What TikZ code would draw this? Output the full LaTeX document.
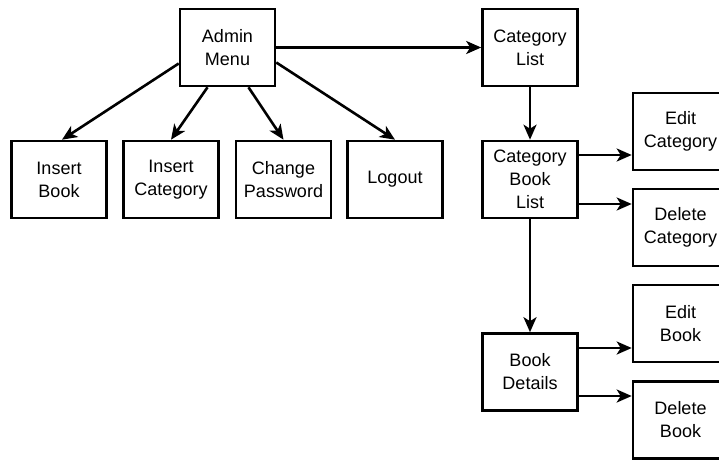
\documentclass[tikz,border=0pt]{standalone}
\usepackage{fontspec}
\setmainfont{Liberation Sans}
\usetikzlibrary{arrows.meta}
\begin{document}
\begin{tikzpicture}[x=1pt,y=-1pt,
  box/.style={draw,line width=2.6pt,minimum width=95pt,minimum height=77pt,inner sep=0pt,align=center,font=\fontsize{18}{23}\selectfont},
  conn/.style={line width=2.6pt,-{Stealth[length=15pt,width=13pt,inset=4pt]}}]
\useasboundingbox (0,0) rectangle (719,460);
\clip (0,0) rectangle (719,460);
\node[box] (am) at (227.5,47.5) {Admin\\Menu};
\node[box] (cl) at (530,47.5) {Category\\List};
\node[box] (ib) at (59,179.5) {Insert\\Book};
\node[box] (ic) at (171,179.5) {Insert\\Category};
\node[box] (cp) at (283.5,179.5) {Change\\Password};
\node[box] (lo) at (395,179.5) {Logout};
\node[box] (cbl) at (530,179.5) {Category\\Book\\List};
\node[box] (ec) at (680.5,131.5) {Edit\\Category};
\node[box] (dc) at (680.5,227.5) {Delete\\Category};
\node[box] (eb) at (680.5,323.5) {Edit\\Book};
\node[box] (db) at (680.5,420) {Delete\\Book};
\node[box] (bd) at (530,372) {Book\\Details};
\draw[conn] (am.east) -- (cl.west);
\draw[conn] ([yshift=-16pt]am.west) -- ([xshift=3pt]ib.north);
\draw[conn] ([xshift=-20pt]am.south) -- (ic.north);
\draw[conn] ([xshift=21pt]am.south) -- (cp.north);
\draw[conn] ([yshift=-15pt]am.east) -- (lo.north);
\draw[conn] (cl.south) -- (cbl.north);
\draw[conn] ([yshift=24.5pt]cbl.east) -- ([yshift=24.5pt]cbl.east -| ec.west);
\draw[conn] ([yshift=-24.5pt]cbl.east) -- ([yshift=-24.5pt]cbl.east -| dc.west);
\draw[conn] (cbl.south) -- (bd.north);
\draw[conn] ([yshift=24pt]bd.east) -- ([yshift=24pt]bd.east -| eb.west);
\draw[conn] ([yshift=-24pt]bd.east) -- ([yshift=-24pt]bd.east -| db.west);
\end{tikzpicture}
\end{document}
